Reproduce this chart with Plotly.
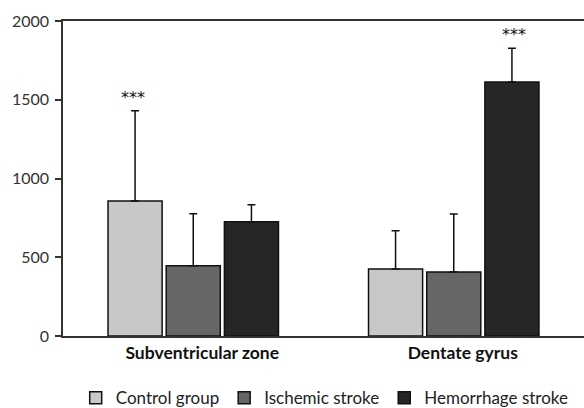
import plotly.graph_objects as go

categories = ["Subventricular zone", "Dentate gyrus"]
series_names = ["Control group", "Ischemic stroke", "Hemorrhage stroke"]
means = {
    "Control group": [857, 425],
    "Ischemic stroke": [446, 406],
    "Hemorrhage stroke": [726, 1613],
}
err_up = {
    "Control group": [573, 244],
    "Ischemic stroke": [330, 369],
    "Hemorrhage stroke": [108, 214],
}
colors = {
    "Control group": "#c8c8c8",
    "Ischemic stroke": "#666666",
    "Hemorrhage stroke": "#262626",
}
y_ticks = [0, 500, 1000, 1500, 2000]
stars = [("Subventricular zone", "Control group"), ("Dentate gyrus", "Hemorrhage stroke")]

FONT = "Lato"
fig = go.Figure()
for name in series_names:
    fig.add_trace(go.Bar(
        x=categories, y=means[name], name=name,
        marker=dict(color=colors[name], line=dict(color="#111111", width=1.5)),
        error_y=dict(type="data", array=err_up[name], arrayminus=[0, 0], symmetric=False,
                     color="#111111", thickness=1.5, width=4),
        hoverinfo="skip",
    ))

offsets = {"Control group": -60, "Ischemic stroke": 0, "Hemorrhage stroke": 60}
for cat, ser in stars:
    i = categories.index(cat)
    fig.add_annotation(x=cat, y=means[ser][i] + err_up[ser][i], text="***", showarrow=False,
                       xshift=offsets[ser], yanchor="bottom", yshift=2,
                       font=dict(family="DejaVu Sans", size=16, color="#111111"))

fig.update_layout(
    width=584, height=408,
    margin=dict(l=63, r=0, t=21, b=72, autoexpand=False),
    paper_bgcolor="white", plot_bgcolor="white",
    barmode="group", bargap=0.33, bargroupgap=0.07,
    font=dict(family=FONT, size=16, color="#333333"),
    showlegend=True,
    legend=dict(orientation="h", xref="container", x=0.556, xanchor="center",
                yref="container", y=0.024, yanchor="middle",
                font=dict(family=FONT, size=17, color="#222222"), itemwidth=30,
                traceorder="normal"),
    xaxis=dict(showline=True, linecolor="#333333", linewidth=1.5, mirror=True,
               ticks="", showgrid=False, zeroline=False, ticklabelshift=9,
               tickfont=dict(family=FONT, size=17.5, color="#111111", weight="bold")),
    yaxis=dict(range=[0, 2000], tickvals=y_ticks, showline=True, linecolor="#333333",
               linewidth=1.5, ticks="outside", ticklen=6, tickcolor="#333333", tickwidth=1.5,
               showgrid=False, zeroline=False, ticklabelstandoff=3,
               tickfont=dict(family=FONT, size=16, color="#333333")),
)
fig.write_html("out.html", post_script="document.body.style.margin='0';",
               config={"displayModeBar": False})
